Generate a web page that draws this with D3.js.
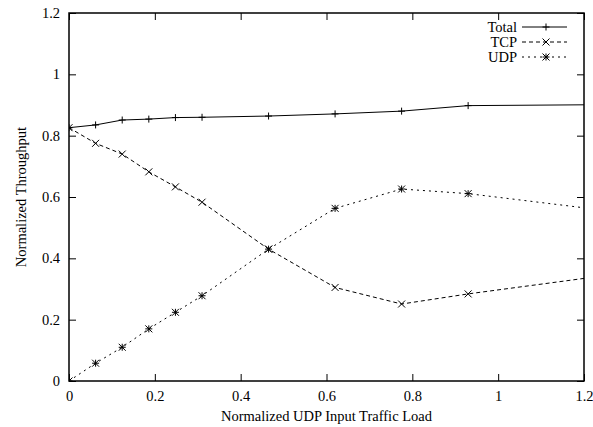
<!DOCTYPE html>
<html>
<head>
<meta charset='utf-8'>
<style>
body { margin: 0; background: #fff; }
svg { display: block; font-family: "Liberation Serif", "DejaVu Serif", serif; font-size: 14.5px; }
.ln { fill: none; stroke: #000; stroke-width: 1px; }
.mk { fill: none; stroke: #000; stroke-width: 1px; }
</style>
</head>
<body>
<svg width="593" height="427"></svg>
<script src="https://d3js.org/d3.v7.min.js"></script>
<script>

// data
var load  = [0, 0.062, 0.124, 0.186, 0.248, 0.31, 0.465, 0.62, 0.775, 0.93, 1.24];
var total = [0.826, 0.835, 0.851, 0.854, 0.859, 0.860, 0.864, 0.871, 0.880, 0.898, 0.901];
var tcp   = [0.826, 0.775, 0.740, 0.682, 0.633, 0.583, 0.430, 0.305, 0.251, 0.284, 0.342];
var udp   = [0.000, 0.058, 0.110, 0.170, 0.224, 0.278, 0.430, 0.563, 0.626, 0.611, 0.558];
var xTicks = [0, 0.2, 0.4, 0.6, 0.8, 1, 1.2];
var yTicks = [0, 0.2, 0.4, 0.6, 0.8, 1, 1.2];
var names = ["Total", "TCP", "UDP"];

var svg = d3.select('svg'),
    padL = 69, padR = 584, padT = 13, padB = 381,
    x = d3.scaleLinear().domain([0, 1.2]).range([padL, padR]),
    y = d3.scaleLinear().domain([0, 1.2]).range([padB, padT]),
    fmt = function(d) { return String(+d.toFixed(1)); };

var series = [
  {name: names[0], vals: total, dash: null, mark: 'plus'},
  {name: names[1], vals: tcp, dash: '4,3', mark: 'cross'},
  {name: names[2], vals: udp, dash: '2,4', mark: 'star'}
];

// gnuplot-ish point symbols
function symbol(type) {
  var p = 'M-3.5,0H3.5M0,-3.5V3.5', c = 'M-3.5,-3.5L3.5,3.5M-3.5,3.5L3.5,-3.5';
  if (type == 'plus') return p;
  if (type == 'cross') return c;
  return p + c;
}

svg.append('clipPath').attr('id', 'plot')
  .append('rect').attr('x', padL).attr('y', padT).attr('width', padR - padL).attr('height', padB - padT);

// axes, ticks pointing inward, mirrored
function styleAxis(g) {
  g.select('.domain').remove();
  g.selectAll('line').attr('stroke', '#000');
  g.selectAll('text').attr('fill', '#000').style('font-size', '14.5px').style('font-family', '"Liberation Serif", serif');
}
svg.append('g').attr('transform', `translate(0,${padB})`)
  .call(d3.axisBottom(x).tickValues(xTicks).tickFormat(fmt).tickSizeInner(-7).tickSizeOuter(0).tickPadding(10))
  .call(styleAxis);
svg.append('g').attr('transform', `translate(${padL},0)`)
  .call(d3.axisLeft(y).tickValues(yTicks).tickFormat(fmt).tickSizeInner(-7).tickSizeOuter(0).tickPadding(9))
  .call(styleAxis);
svg.append('g').attr('transform', `translate(0,${padT})`)
  .call(d3.axisTop(x).tickValues(xTicks).tickFormat('').tickSizeInner(-7).tickSizeOuter(0))
  .call(styleAxis);
svg.append('g').attr('transform', `translate(${padR},0)`)
  .call(d3.axisRight(y).tickValues(yTicks).tickFormat('').tickSizeInner(-7).tickSizeOuter(0))
  .call(styleAxis);

svg.append('rect')
  .attr('x', padL).attr('y', padT).attr('width', padR - padL).attr('height', padB - padT)
  .attr('fill', 'none').attr('stroke', '#000').attr('stroke-width', 1.5);

// series
var plot = svg.append('g').attr('clip-path', 'url(#plot)');
var line = d3.line().x((d, i) => x(load[i])).y(d => y(d));
series.forEach(function(s) {
  plot.append('path').attr('class', 'ln').attr('d', line(s.vals))
    .attr('stroke-dasharray', s.dash);
  plot.selectAll(null).data(s.vals).enter().append('path')
    .attr('class', 'mk')
    .attr('transform', (d, i) => `translate(${x(load[i])},${y(d)})`)
    .attr('d', symbol(s.mark));
});

// legend
var legend = svg.append('g');
series.forEach(function(s, i) {
  var ly = 27 + i * 15;
  legend.append('text').attr('x', 517).attr('y', ly).attr('dy', '0.35em')
    .attr('text-anchor', 'end').text(s.name);
  legend.append('line').attr('class', 'ln').attr('x1', 522).attr('x2', 567)
    .attr('y1', ly).attr('y2', ly).attr('stroke-dasharray', s.dash);
  legend.append('path').attr('class', 'mk').attr('transform', `translate(546,${ly})`)
    .attr('d', symbol(s.mark));
});

// axis titles
svg.append('text').attr('x', (padL + padR) / 2).attr('y', 421)
  .attr('text-anchor', 'middle').text('Normalized UDP Input Traffic Load');
svg.append('text').attr('transform', `translate(21,${(padT + padB) / 2}) rotate(-90)`)
  .attr('text-anchor', 'middle').attr('dy', '0.35em').text('Normalized Throughput');

</script>
</body>
</html>
